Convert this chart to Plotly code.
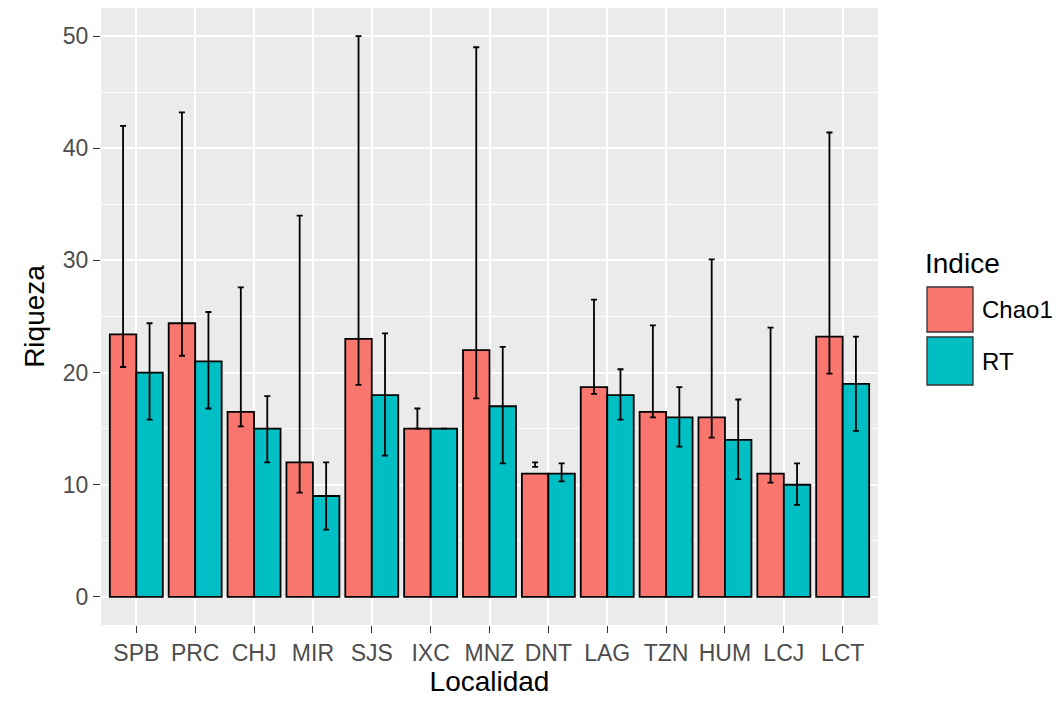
import plotly.graph_objects as go

localidades = ["SPB", "PRC", "CHJ", "MIR", "SJS", "IXC", "MNZ", "DNT", "LAG", "TZN", "HUM", "LCJ", "LCT"]
chao1 = [23.4, 24.4, 16.5, 12.0, 23.0, 15.0, 22.0, 11.0, 18.7, 16.5, 16.0, 11.0, 23.2]
chao1_low = [20.5, 21.5, 15.2, 9.3, 18.9, 15.0, 17.7, 11.6, 18.1, 16.0, 14.2, 10.2, 19.9]
chao1_up = [42.0, 43.2, 27.6, 34.0, 50.0, 16.8, 49.0, 12.0, 26.5, 24.2, 30.1, 24.0, 41.4]
rt = [20.0, 21.0, 15.0, 9.0, 18.0, 15.0, 17.0, 11.0, 18.0, 16.0, 14.0, 10.0, 19.0]
rt_low = [15.8, 16.8, 12.0, 6.0, 12.6, 15.0, 11.9, 10.3, 15.8, 13.4, 10.5, 8.2, 14.8]
rt_up = [24.4, 25.4, 17.9, 12.0, 23.5, 15.0, 22.3, 11.9, 20.3, 18.7, 17.6, 11.9, 23.2]
y_ticks = [0, 10, 20, 30, 40, 50]

COL_C = "#F8766D"
COL_R = "#00BFC4"
pos = list(range(1, len(localidades) + 1))
dw = 0.45
xc = [p - dw / 2 for p in pos]
xr = [p + dw / 2 for p in pos]

fig = go.Figure()
fig.add_trace(go.Bar(x=xc, y=chao1, width=dw, marker=dict(color=COL_C, line=dict(color="black", width=1.8)), name="Chao1", showlegend=False))
fig.add_trace(go.Bar(x=xr, y=rt, width=dw, marker=dict(color=COL_R, line=dict(color="black", width=1.8)), name="RT", showlegend=False))

for xs, lo, up in [(xc, chao1_low, chao1_up), (xr, rt_low, rt_up)]:
    fig.add_trace(go.Scatter(
        x=xs, y=lo, mode="markers", marker=dict(size=1, color="rgba(0,0,0,0)"),
        error_y=dict(type="data", symmetric=False, array=[u - l for u, l in zip(up, lo)],
                     arrayminus=[0] * len(lo), color="black", thickness=1.8, width=3),
        showlegend=False, hoverinfo="skip"))

W, H = 1060, 706
L, R, T, B = 101, 182, 8, 81
pw, ph = W - L - R, H - T - B

def px_x(x):
    return (x - L) / pw

def px_y(y):
    return (H - B - y) / ph

fig.update_layout(
    width=W, height=H, margin=dict(l=L, r=R, t=T, b=B),
    paper_bgcolor="white", plot_bgcolor="#EBEBEB",
    font=dict(family="Liberation Sans, Arial, sans-serif", color="#4D4D4D"),
    barmode="overlay",
    xaxis=dict(range=[0.4, 13.6], tickvals=pos, ticktext=localidades, showgrid=True,
               gridcolor="white", gridwidth=1.6, zeroline=False, ticks="outside",
               ticklen=7, tickcolor="#333333", tickwidth=1.2, tickfont=dict(size=23, color="#4D4D4D"),
               title=dict(text="Localidad", font=dict(size=28, color="black"), standoff=6)),
    yaxis=dict(range=[-2.5, 52.5], tickvals=y_ticks, showgrid=True, gridcolor="white",
               gridwidth=1.6, zeroline=False, ticks="outside", ticklen=7, tickcolor="#333333",
               tickwidth=1.2, tickfont=dict(size=23, color="#4D4D4D"),
               minor=dict(dtick=5, tick0=0, showgrid=True, gridcolor="white", gridwidth=0.7, ticks=""),
               title=dict(text="Riqueza", font=dict(size=28, color="black"), standoff=10)),
)

# legend (drawn manually to match large ggplot keys)
keys = [(COL_C, "Chao1", 287, 332), (COL_R, "RT", 337, 385)]
for col, lab, y0, y1 in keys:
    fig.add_shape(type="rect", xref="paper", yref="paper", x0=px_x(927), x1=px_x(973),
                  y0=px_y(y1), y1=px_y(y0), fillcolor=col, line=dict(color="#333333", width=1.3))
    fig.add_annotation(xref="paper", yref="paper", x=px_x(980), y=px_y((y0 + y1) / 2),
                       text=lab, showarrow=False, xanchor="left", yanchor="middle",
                       font=dict(size=24, color="black"))
fig.add_annotation(xref="paper", yref="paper", x=px_x(923), y=px_y(263), text="Indice",
                   showarrow=False, xanchor="left", yanchor="middle", font=dict(size=28, color="black"))

fig.write_html("out.html")
